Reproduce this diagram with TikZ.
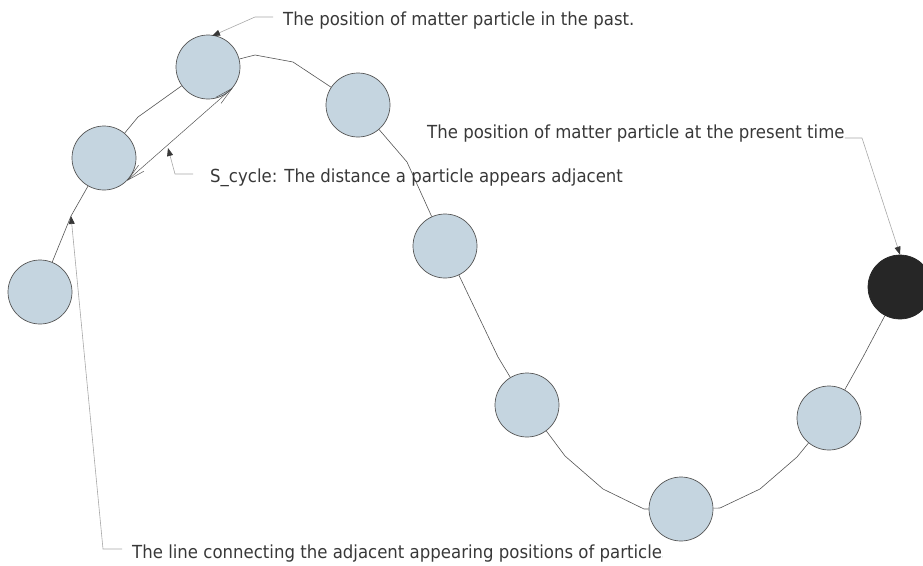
\documentclass[tikz,border=0pt]{standalone}
\usepackage{fontspec}
\setmainfont[FakeStretch=0.92]{DejaVu Sans}
\usetikzlibrary{arrows.meta}
\definecolor{partfill}{HTML}{C5D5E0}
\definecolor{partdraw}{HTML}{555555}
\definecolor{txtcol}{HTML}{383838}
\definecolor{leadcol}{HTML}{A8A8A8}
\definecolor{nowfill}{HTML}{262626}
\tikzset{
  particle/.style={circle, draw=partdraw, fill=partfill, line width=0.7pt, minimum size=64pt, inner sep=0pt},
  nowparticle/.style={particle, fill=nowfill, draw=nowfill},
  pathline/.style={draw=partdraw, line width=0.6pt},
  leader/.style={draw=leadcol, line width=0.6pt, -{Triangle[length=8pt,width=6pt,color=txtcol,fill=txtcol]}},
  lbl/.style={anchor=base west, inner sep=0pt, text=txtcol, font=\fontsize{18}{20}\selectfont},
  dist/.style={draw=partdraw, line width=0.5pt, {Straight Barb[length=18pt,width=8pt]}-{Straight Barb[length=18pt,width=8pt]}}
}
\begin{document}
\begin{tikzpicture}[x=1pt,y=-1pt]
\useasboundingbox (0,0) rectangle (923,565);
\clip (0,0) rectangle (923,565);
% particles
\node[particle] (p1) at (40,292) {};
\node[particle] (p2) at (104,158) {};
\node[particle] (p3) at (208,67) {};
\node[particle] (p4) at (358,105) {};
\node[particle] (p5) at (445,246) {};
\node[particle] (p6) at (527,405) {};
\node[particle] (p7) at (681,509) {};
\node[particle] (p8) at (829,418) {};
\node[nowparticle] (p9) at (900,287) {};
% connecting path
\coordinate (b1) at (71,216);
\draw[pathline] (p1) -- (b1) -- (p2);
\draw[pathline] (p2) -- (138,117) -- (p3);
\draw[pathline] (p3) -- (255,55) -- (293,62) -- (p4);
\draw[pathline] (p4) -- (407,162) -- (p5);
\draw[pathline] (p5) -- (498,357) -- (p6);
\draw[pathline] (p6) -- (565,456) -- (603,489) -- (644,509) -- (p7);
\draw[pathline] (p7) -- (720,508) -- (760,489) -- (797,457) -- (p8);
\draw[pathline] (p8) -- (863,357) -- (p9);
% S_cycle distance
\coordinate (s1) at (p2.-45);
\coordinate (s2) at (p3.-40);
\draw[dist] (s1) -- (s2);
\coordinate (sm) at (168,148);
% labels
\node[lbl] (tpast) at (283,25) {The position of matter particle in the past.};
\node[lbl] (tcyc) at (210,182) {S\_cycle: The distance a particle appears adjacent};
\node[lbl] (tnow) at (427,138) {The position of matter particle at the present time};
\begin{scope}
\clip (0,530) rectangle (662,565);
\node[lbl] (tline) at (132,558) {The line connecting the adjacent appearing positions of particles};
\end{scope}
% leaders
\coordinate (lp) at ([xshift=-10pt]tpast.west);
\coordinate (lc) at ([xshift=-17pt]tcyc.west);
\coordinate (ll) at ([xshift=-10pt]tline.west);
\draw[leader] (lp |- 0,17) -- (255,17) -- (212,36);
\draw[leader] (lc |- 0,174) -- (175,174) -- (sm);
\draw[leader] (tnow.east |- 0,138) -- (862,138) -- (p9.north);
\draw[leader] (ll |- 0,549) -- (103,549) -- (b1);
\end{tikzpicture}
\end{document}
